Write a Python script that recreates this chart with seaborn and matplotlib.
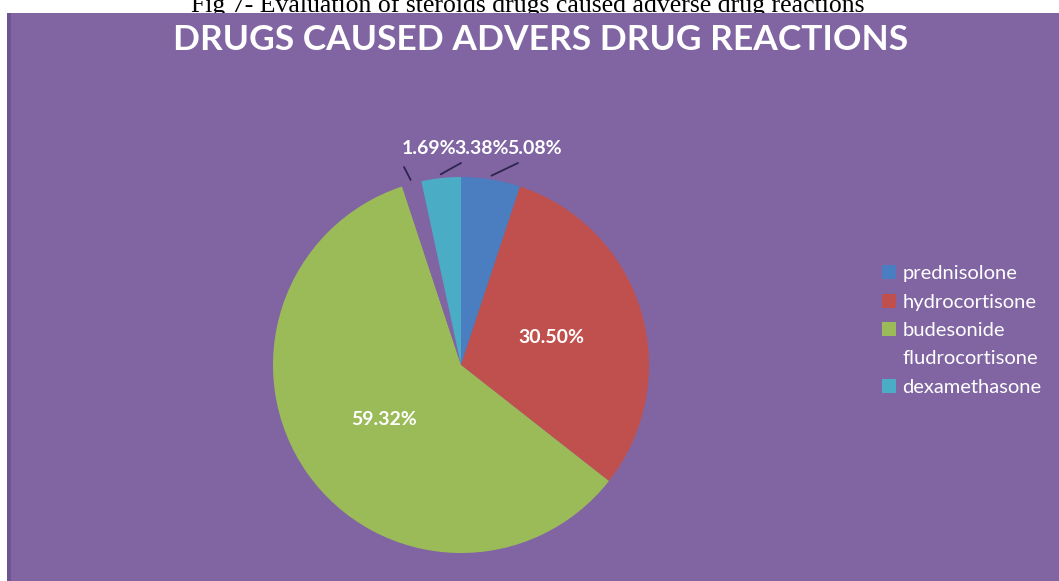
import numpy as np
import matplotlib
matplotlib.use("Agg")
import matplotlib.pyplot as plt
import seaborn as sns
from matplotlib.patches import Rectangle

sns.set_theme(style="white")
plt.rcParams["font.family"] = ["Lato", "DejaVu Sans"]

drugs = ["prednisolone", "hydrocortisone", "budesonide", "fludrocortisone", "dexamethasone"]
shares = [5.08, 30.50, 59.32, 1.69, 3.38]
colors = ["#4A7EC0", "#C0504D", "#9BBB59", "#8165A2", "#4BACC6"]
bg = "#8165A2"

W, H = 1059, 581
fig = plt.figure(figsize=(W / 100, H / 100), dpi=100)
fig.patch.set_facecolor("white")

fig.text(528 / W, 1 + 6 / H, "Fig 7- Evaluation of steroids drugs caused adverse drug reactions",
         ha="center", va="top", fontsize=18.5, family=["Liberation Serif"], color="black", zorder=1)

# purple chart panel under the caption
panel_ax = fig.add_axes([7 / W, 0, 1 - 7 / W, 1 - 13 / H], zorder=2)
panel_ax.set_facecolor(bg)
panel_ax.set_xticks([])
panel_ax.set_yticks([])
for s in panel_ax.spines.values():
    s.set_visible(False)
panel_ax.axvspan(0, 4 / (W - 7), color="#6E5590", lw=0)
panel_ax.set_xlim(0, 1)

panel_ax.text((541 - 7) / (W - 7), 1 - 27 / (H - 13), "DRUGS CAUSED ADVERS DRUG REACTIONS",
              transform=panel_ax.transAxes, ha="center", va="center",
              fontsize=25.5, fontweight="bold", color="white")

# pie axes: centre (461, 365) px, radius 188 px
cx, cy, r = 461, 365, 188
ax = fig.add_axes([(cx - r) / W, (H - cy - r) / H, 2 * r / W, 2 * r / H], zorder=3)
ax.set_facecolor("none")
wedges, _ = ax.pie(shares, colors=colors, startangle=90, counterclock=False, radius=1,
                   wedgeprops=dict(linewidth=0))
ax.set_xlim(-1, 1)
ax.set_ylim(-1, 1)
ax.set_aspect("equal")
ax.axis("off")

# slice mid-angles (degrees, clockwise from 12 o'clock)
cum = np.cumsum([0] + shares[:-1])
total = sum(shares)
mids = (cum + np.array(shares) / 2) / total * 360

def pos(angle, rad):
    a = np.deg2rad(angle)
    return rad * np.sin(a), rad * np.cos(a)

def px(x, y):
    return (x - cx) / r, (cy - y) / r

label_size = 14

# inside labels for the large slices
for i in (1, 2):
    x, y = pos(mids[i], 0.5)
    ax.text(x, y, f"{shares[i]:.2f}%", ha="center", va="center", color="white",
            fontsize=label_size, fontweight="bold")

# outside labels with leader lines for the small slices
outside = {3: ((429, 149), (404, 167)), 4: ((482, 149), (461, 163)), 0: ((535, 149), (518, 163))}
for i, (txt, lend) in outside.items():
    sx, sy = pos(mids[i], 1.02)
    ex, ey = px(*lend)
    ax.plot([sx, ex], [sy, ey], color="#2E2450", lw=1.3, clip_on=False)
    tx, ty = px(*txt)
    ax.text(tx, ty, f"{shares[i]:.2f}%", ha="center", va="center", color="white",
            fontsize=label_size, fontweight="bold", clip_on=False)

handles = [Rectangle((0, 0), 1, 1, facecolor=c, edgecolor="none") for c in colors]
leg = fig.legend(handles, drugs, loc="upper left", bbox_to_anchor=(864 / W, 1 - 247 / H),
                 frameon=False, handlelength=0.7, handleheight=0.7, handletextpad=0.3,
                 labelspacing=0.56, fontsize=14.5)
leg.set_zorder(4)
for t in leg.get_texts():
    t.set_color("white")

fig.savefig("out.png", dpi=100, facecolor=fig.get_facecolor())
